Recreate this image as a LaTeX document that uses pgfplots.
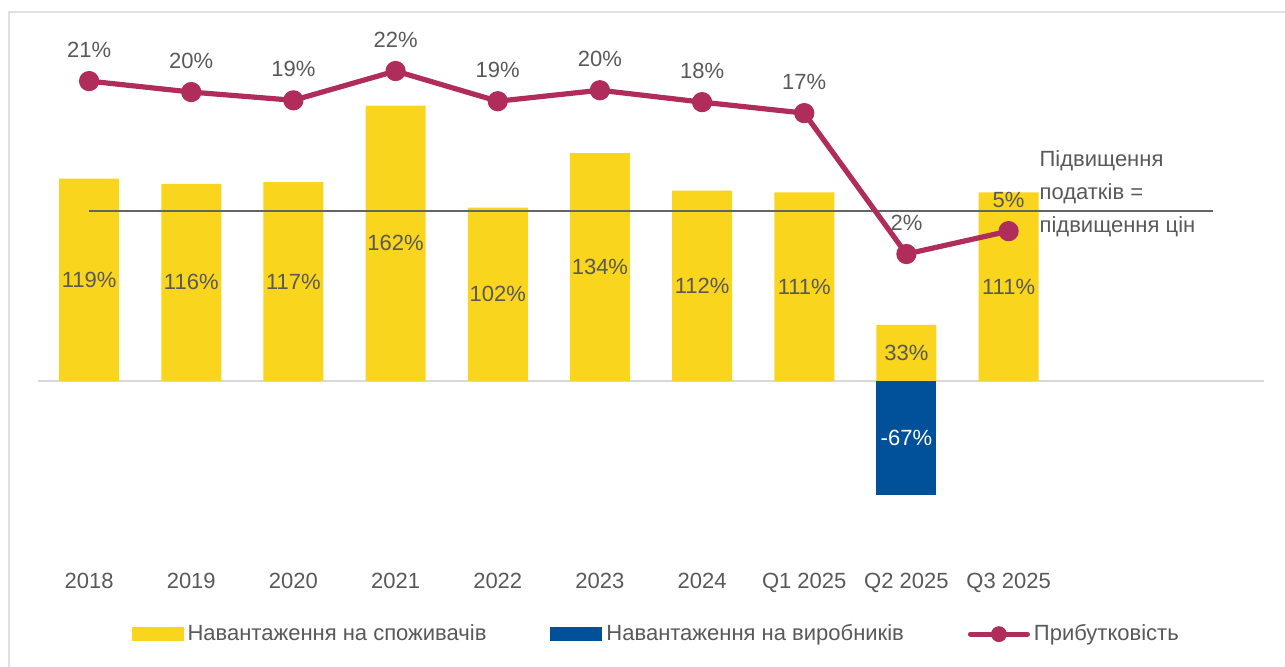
\documentclass[border=0pt]{standalone}
\usepackage{fontspec}
\setmainfont{Liberation Sans}
\usepackage{pgfplots}
\pgfplotsset{compat=1.18}
\definecolor{cons}{HTML}{F9D51D}
\definecolor{prod}{HTML}{00519A}
\definecolor{prof}{HTML}{B02C5A}
\definecolor{txt}{HTML}{595959}
\definecolor{ref}{HTML}{646464}

\pgfplotsset{
  frame/.style={at={(19pt,-275.5pt)}, anchor=south west, scale only axis,
    width=613pt, height=255pt, xmin=-0.5, xmax=11.5, clip=false},
  barlabel/.style={nodes near coords={\pgfmathprintnumber{\pgfplotspointmeta}\%},
    visualization depends on=rawy \as \rawy,
    every node near coord/.append style={anchor=center, yshift={-0.425pt*(\rawy)},
      font=\fontsize{11}{13}\selectfont, text=#1}},
  barleg/.style={legend image code/.code={\fill[##1] (0pt,-3.5pt) rectangle (26pt,3.5pt);}},
}

\begin{document}
\begin{tikzpicture}
\useasboundingbox (0,0) rectangle (642.5pt,-333pt);
\draw[black!12, line width=1pt] (4.5pt,-340pt) -- (4.5pt,-6pt) -- (650pt,-6pt);

\begin{axis}[frame, ymin=-100, ymax=200,
  ybar, bar width=30pt, bar shift=0pt,
  axis line style={draw=none}, ytick=\empty,
  xtick={0,...,9},
  xticklabels={2018,2019,2020,2021,2022,2023,2024,Q1 2025,Q2 2025,Q3 2025},
  major tick length=0pt,
  xticklabel style={anchor=base, yshift=-18.5pt, text=txt, font=\fontsize{11}{13}\selectfont},
  extra y ticks={0}, extra y tick labels={},
  extra y tick style={grid=major, major grid style={draw=black!15, line width=1pt}},
  /pgf/number format/assume math mode=true,
  legend columns=-1,
  legend style={draw=none, at={(0.505,-0.163)}, anchor=center,
    font=\fontsize{11}{13}\selectfont, text=txt,
    /tikz/every even column/.append style={column sep=30pt},
    nodes={inner sep=2pt}},
]
\addplot[fill=cons, draw=none, barlabel=txt, barleg] coordinates
  {(0,119) (1,116) (2,117) (3,162) (4,102) (5,134) (6,112) (7,111) (8,33) (9,111)};
\addplot[fill=prod, draw=none, barlabel=white, barleg] coordinates {(8,-67)};
\addplot[sharp plot, draw=ref, line width=1pt, no marks, forget plot] coordinates {(0,100) (11,100)};
\addlegendimage{legend image code/.code={
  \draw[prof, line width=2.5pt, line cap=round] (0pt,0pt) -- (28.5pt,0pt);
  \fill[prof] (14.25pt,0pt) circle (3.75pt);}}
\legend{Навантаження на споживачів, Навантаження на виробників, Прибутковість}
\node[anchor=north west, align=left, inner sep=0pt, text=txt,
  font=\fontsize{11}{16.5}\selectfont] at (axis cs:9.3,135.9)
  {Підвищення\\податків =\\підвищення цін};
\end{axis}

\begin{axis}[frame, ymin=-30.46, ymax=25.28, hide axis]
\addplot[prof, line width=2.6pt, line join=round, mark=*, mark size=3.75pt,
  mark options={fill=prof, draw=none},
  nodes near coords, point meta=explicit symbolic,
  every node near coord/.append style={anchor=base, yshift=12pt, text=txt,
    font=\fontsize{11}{13}\selectfont}]
  coordinates {(0,20.9) [21\%] (1,19.7) [20\%] (2,18.8) [19\%] (3,22.0) [22\%]
    (4,18.7) [19\%] (5,19.9) [20\%] (6,18.6) [18\%] (7,17.4) [17\%]
    (8,2.0) [2\%] (9,4.5) [5\%]};
\end{axis}
\end{tikzpicture}
\end{document}
